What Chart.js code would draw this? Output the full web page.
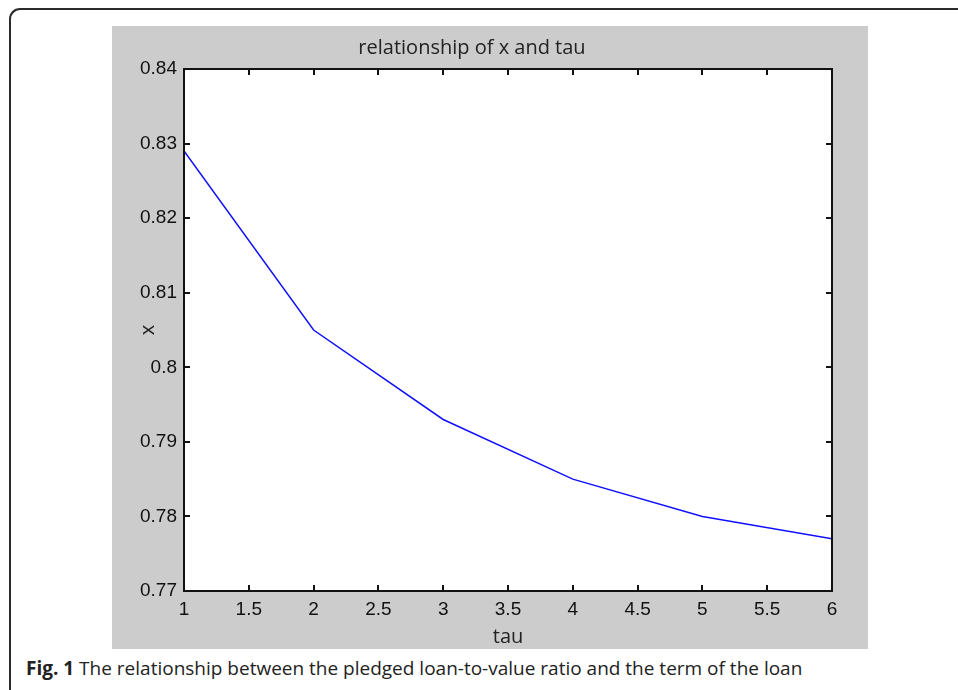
<!DOCTYPE html>
<html>
<head>
<meta charset="utf-8">
<script src="https://cdn.jsdelivr.net/npm/chart.js@4"></script>
<style>
    html, body { margin: 0; padding: 0; background: #fff; }
    body { width: 958px; height: 690px; position: relative; overflow: hidden; }
    .moldura {
        position: absolute; left: 9px; top: 8px; width: 1000px; height: 740px;
        border-top: 2px solid #2b2b2b; border-left: 2px solid #2b2b2b;
        border-top-left-radius: 11px;
    }
    .fundo-figura { position: absolute; left: 112px; top: 26px; width: 756px; height: 623px; background: #cccccc; }
    .fundo-figura canvas { display: block; }
    .legenda {
        position: absolute; left: 26px; top: 655px;
        font-family: 'Open Sans', sans-serif; font-size: 19px; color: #222; white-space: nowrap;
    }
</style>
</head>
<body>
<div class="moldura"></div>
<div class="fundo-figura"><canvas id="grafico" width="756" height="623"></canvas></div>
<div class="legenda"><b>Fig. 1</b> The relationship between the pledged loan-to-value ratio and the term of the loan</div>
<script>
// dados
const tau = [1, 2, 3, 4, 5, 6];
const valoresX = [0.829, 0.805, 0.793, 0.785, 0.780, 0.777];

const ticksTau = [1, 1.5, 2, 2.5, 3, 3.5, 4, 4.5, 5, 5.5, 6];
const rotulosTau = ['1', '1.5', '2', '2.5', '3', '3.5', '4', '4.5', '5', '5.5', '6'];
const ticksX = [0.77, 0.78, 0.79, 0.80, 0.81, 0.82, 0.83, 0.84];
const rotulosX = ['0.77', '0.78', '0.79', '0.8', '0.81', '0.82', '0.83', '0.84'];

const fonteTicks = { family: "'Liberation Sans', Arial, sans-serif", size: 19 };
const fonteTitulo = { family: "'Open Sans', sans-serif", size: 20, weight: 'normal', lineHeight: 1.2 };
const corTexto = '#111';

// caixa do eixo e marcas para dentro, estilo matlab
const marcasInternas = {
    id: 'marcasInternas',
    afterDatasetsDraw(chart) {
        const { ctx, chartArea: area, scales } = chart;
        const comprimento = 6;
        const esquerda = Math.round(area.left);
        const direita = Math.round(area.right);
        const topo = Math.round(area.top);
        const base = Math.round(area.bottom);

        ctx.save();
        ctx.strokeStyle = '#111';
        ctx.lineWidth = 2;
        ctx.beginPath();
        scales.x.ticks.forEach(tick => {
            const px = Math.round(scales.x.getPixelForValue(tick.value));
            ctx.moveTo(px, base); ctx.lineTo(px, base - comprimento);
            ctx.moveTo(px, topo); ctx.lineTo(px, topo + comprimento);
        });
        scales.y.ticks.forEach(tick => {
            const py = Math.round(scales.y.getPixelForValue(tick.value));
            ctx.moveTo(esquerda, py); ctx.lineTo(esquerda + comprimento, py);
            ctx.moveTo(direita, py); ctx.lineTo(direita - comprimento, py);
        });
        ctx.stroke();
        ctx.strokeRect(esquerda, topo, direita - esquerda, base - topo);
        ctx.restore();
    }
};

const fundoBranco = {
    id: 'fundoBranco',
    beforeDatasetsDraw(chart) {
        const { ctx, chartArea: area } = chart;
        ctx.save();
        ctx.fillStyle = '#fff';
        ctx.fillRect(area.left, area.top, area.right - area.left, area.bottom - area.top);
        ctx.restore();
    }
};

new Chart(document.getElementById('grafico'), {
    type: 'line',
    data: {
        datasets: [{
            data: tau.map((t, i) => ({ x: t, y: valoresX[i] })),
            borderColor: '#1010ff',
            borderWidth: 1.5,
            pointRadius: 0,
            tension: 0,
            fill: false
        }]
    },
    options: {
        responsive: false,
        animation: false,
        layout: { padding: { left: 0, right: 36, top: 0, bottom: 0 } },
        plugins: {
            legend: { display: false },
            tooltip: { enabled: false },
            title: {
                display: true,
                text: 'relationship of x and tau',
                color: '#222',
                font: fonteTitulo,
                padding: { top: 10, bottom: 9 }
            }
        },
        scales: {
            x: {
                type: 'linear',
                min: 1,
                max: 6,
                afterBuildTicks: escala => { escala.ticks = ticksTau.map(v => ({ value: v })); },
                afterFit: escala => { escala.height = 58; },
                ticks: {
                    callback: (v, i) => rotulosTau[i],
                    font: fonteTicks,
                    color: corTexto,
                    padding: 7,
                    maxRotation: 0,
                    autoSkip: false
                },
                grid: { display: false, drawTicks: false },
                border: { display: false },
                title: { display: true, text: 'tau', color: '#222', font: fonteTitulo, padding: { top: 6, bottom: 0 } }
            },
            y: {
                min: 0.77,
                max: 0.84,
                afterBuildTicks: escala => { escala.ticks = ticksX.map(v => ({ value: v })); },
                afterFit: escala => { escala.width = 72; },
                ticks: {
                    callback: (v, i) => rotulosX[i],
                    font: fonteTicks,
                    color: corTexto,
                    padding: 7,
                    autoSkip: false
                },
                grid: { display: false, drawTicks: false },
                border: { display: false },
                title: { display: true, text: 'x', color: '#222', font: fonteTitulo, padding: { top: 24, bottom: 0 } }
            }
        }
    },
    plugins: [fundoBranco, marcasInternas]
});
</script>
</body>
</html>
